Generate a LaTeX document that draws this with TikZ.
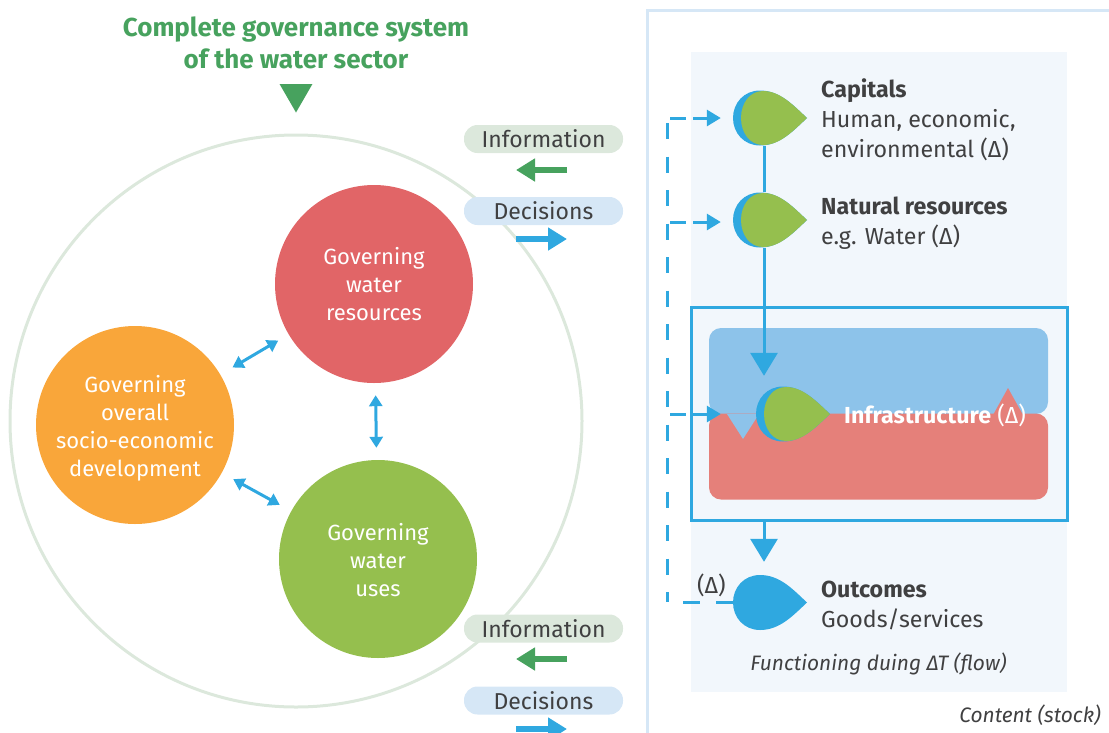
\documentclass[tikz,border=0pt]{standalone}
\usepackage{fontspec}
\setmainfont{Fira Sans}
\usepackage{tikz}
\usetikzlibrary{shapes.geometric, arrows.meta, positioning}
\definecolor{titlegreen}{HTML}{47A25E}
\definecolor{ringgreen}{HTML}{DCE8DC}
\definecolor{watergreen}{HTML}{95BF4E}
\definecolor{waterred}{HTML}{E16567}
\definecolor{socioorange}{HTML}{F9A63A}
\definecolor{flowblue}{HTML}{2FA8E0}
\definecolor{panelblue}{HTML}{F2F7FC}
\definecolor{edgeblue}{HTML}{D6E7F6}
\definecolor{storeblue}{HTML}{8DC3EA}
\definecolor{storered}{HTML}{E5807A}
\definecolor{textgrey}{HTML}{404041}
\tikzstyle{governing} = [circle, minimum size=198pt, inner sep=0pt, text centered, align=center, text=white, font=\fontsize{22}{28}\selectfont]
\tikzstyle{pill} = [rectangle, rounded corners=13.5pt, minimum width=159pt, minimum height=28pt, inner sep=0pt, text=textgrey, font=\fontsize{23}{28}\selectfont]
\tikzstyle{dropnode} = [circle, minimum size=55pt, inner sep=0pt]
\tikzstyle{store} = [rectangle, rounded corners=12pt, minimum width=339pt, minimum height=86pt, inner sep=0pt]
\tikzstyle{stocktext} = [anchor=west, align=left, inner sep=0pt, text=textgrey, font=\fontsize{23.2}{30}\selectfont]
\tikzstyle{note} = [inner sep=0pt, text=textgrey, font=\itshape\fontsize{20.9}{24}\selectfont]
\tikzstyle{link} = [flowblue, line width=3pt, {Triangle[width=13pt,length=11pt]}-{Triangle[width=13pt,length=11pt]}]
\tikzstyle{bigarrow} = [line width=6pt, -{Triangle[width=22pt,length=19pt]}]
\tikzstyle{flow} = [flowblue, line width=3pt]
\tikzstyle{flowarrow} = [flow, -{Triangle[width=27pt,length=23pt]}]
\tikzstyle{feedback} = [flowblue, line width=3pt, dash pattern=on 16pt off 7pt, -{Triangle[width=16pt,length=14pt]}, shorten >=15.5pt]
\tikzset{
  bluedrop/.pic={\fill [flowblue] (-4,-27.5) .. controls (16,-27.5) and (29,-13) .. (43,0) .. controls (29,13) and (16,27.5) .. (-4,27.5) .. controls (-20,27.5) and (-31,15) .. (-31,0) .. controls (-31,-15) and (-20,-27.5) .. (-4,-27.5) -- cycle;},
  leafdrop/.pic={\pic {bluedrop};
    \fill [watergreen] (-1,-27) .. controls (16,-27) and (29,-13) .. (43,0) .. controls (29,13) and (16,27) .. (-1,27) .. controls (-14,27) and (-23,15) .. (-23,0) .. controls (-23,-15) and (-14,-27) .. (-1,-27) -- cycle;}
}

\begin{document}
\begin{tikzpicture}[x=1pt, y=-1pt, node distance=275pt]
\useasboundingbox (0,0) rectangle (1109,732);
\clip (0,0) rectangle (1109,732);

% Left side
\node (ring) [circle, minimum size=572pt, inner sep=0pt, draw=ringgreen, line width=3pt] at (296,421) {};
\node (title) [align=center, inner sep=0pt, text=titlegreen, font=\bfseries\fontsize{26}{32}\selectfont] at (296,43) {Complete governance system\\of the water sector};
\node (pointer) [regular polygon, regular polygon sides=3, shape border rotate=180, minimum size=38pt, inner sep=0pt, fill=titlegreen] at (296,93.5) {};

\node (resources) [governing, fill=waterred] at (374,284) {Governing\\water\\resources};
\node (uses) [governing, fill=watergreen, below of=resources, xshift=4pt] {\rule{0pt}{20pt}Governing\\water\\uses};
\node (overall) [governing, fill=socioorange] at (135,425) {\rule{0pt}{24pt}Governing\\overall\\socio-economic\\development};

\node (info1) [pill, fill=ringgreen] at (543.5,139) {Information};
\node (dec1) [pill, fill=edgeblue, below of=info1, node distance=72pt] {Decisions};
\node (info2) [pill, fill=ringgreen] at (543.5,628.5) {Information};
\node (dec2) [pill, fill=edgeblue, below of=info2, node distance=72pt] {Decisions};

\coordinate (info1a) at (567,170);
\coordinate (info1b) at (516,170);
\coordinate (dec1a) at (516,239);
\coordinate (dec1b) at (567,239);
\coordinate (info2a) at (567,659);
\coordinate (info2b) at (516,659);
\coordinate (dec2a) at (516,729);
\coordinate (dec2b) at (567,729);

% Right side
\draw [edgeblue, line width=3pt] (647,733) -- (647,10) -- (1110,10);
\node (panel) [rectangle, minimum width=376pt, minimum height=640pt, inner sep=0pt, fill=panelblue] at (879,372) {};
\node (frame) [rectangle, minimum width=376pt, minimum height=213pt, inner sep=0pt, draw=flowblue, line width=3pt] at (879,413.5) {};
\node (bluestore) [store, fill=storeblue] at (878.5,371) {};
\node (redstore) [store, fill=storered, below of=bluestore, node distance=85.5pt] {};
\fill [storeblue] (727,414) -- (743,439) -- (759,414) -- cycle;
\fill [storered] (993,415) -- (1008,388) -- (1023,415) -- cycle;

\node (capitals) [dropnode] at (764,118) {};
\node (natural) [dropnode, below of=capitals, node distance=102pt] {};
\node (infra) [dropnode] at (787,414) {};
\node (outcomes) [dropnode] at (764,602.5) {};

\coordinate (bustop) at (667,123);
\coordinate (busend) at (667,602);
\coordinate (capentry) at (670,118);
\coordinate (natentry) at (670,222);
\coordinate (infentry) at (670,414);
\coordinate (outentry) at (683,602);
\coordinate (framefoot) at (764,520);

% Arrows
\draw [link, shorten <=14pt, shorten >=12pt] (overall) -- (resources);
\draw [link, shorten <=13pt, shorten >=13pt] (overall) -- (uses);
\draw [link, shorten <=12pt, shorten >=12pt] (resources) -- (uses);
\draw [bigarrow, titlegreen] (info1a) -- (info1b);
\draw [bigarrow, flowblue] (dec1a) -- (dec1b);
\draw [bigarrow, titlegreen] (info2a) -- (info2b);
\draw [bigarrow, flowblue] (dec2a) -- (dec2b);

\draw [flow] (capitals) -- (natural);
\draw [flowarrow, shorten >=10.5pt] (natural) -- (natural |- infra.north);
\draw [flowarrow, shorten >=13pt] (framefoot) -- (outcomes.north);
\draw [flow, dash pattern=on 16pt off 17.5pt] (bustop) -- (busend);
\draw [feedback] (capentry) -- (capitals.west |- capentry);
\draw [feedback] (natentry) -- (natural.west |- natentry);
\draw [feedback, shorten >=38.5pt] (infentry) -- (infra.west |- infentry);
\draw [flow, dash pattern=on 17pt off 16pt] (outentry) -- (outcomes.west |- outentry);

% Drops go over the lines
\pic at (capitals) {leafdrop};
\pic at (natural) {leafdrop};
\pic at (infra) {leafdrop};
\pic at (outcomes) {bluedrop};

% Text
\node (capitaltext) [stocktext] at (821,120) {\textbf{Capitals}\\Human, economic,\\environmental (Δ)};
\node (naturaltext) [stocktext] at (821,223) {\textbf{Natural resources}\\e.g. Water (Δ)};
\node (infratext) [stocktext, text=white] at (844,415) {\textbf{Infrastructure} (Δ)};
\node (outcometext) [stocktext] at (821,605) {\textbf{Outcomes}\\Goods/services};
\node (deltatext) [stocktext] at (697,585) {(Δ)};
\node (flowtext) [note] at (878.5,664) {Functioning duing ΔT (flow)};
\node (stocktext) [note, anchor=east] at (1101,715) {Content (stock)};

\end{tikzpicture}
\end{document}
